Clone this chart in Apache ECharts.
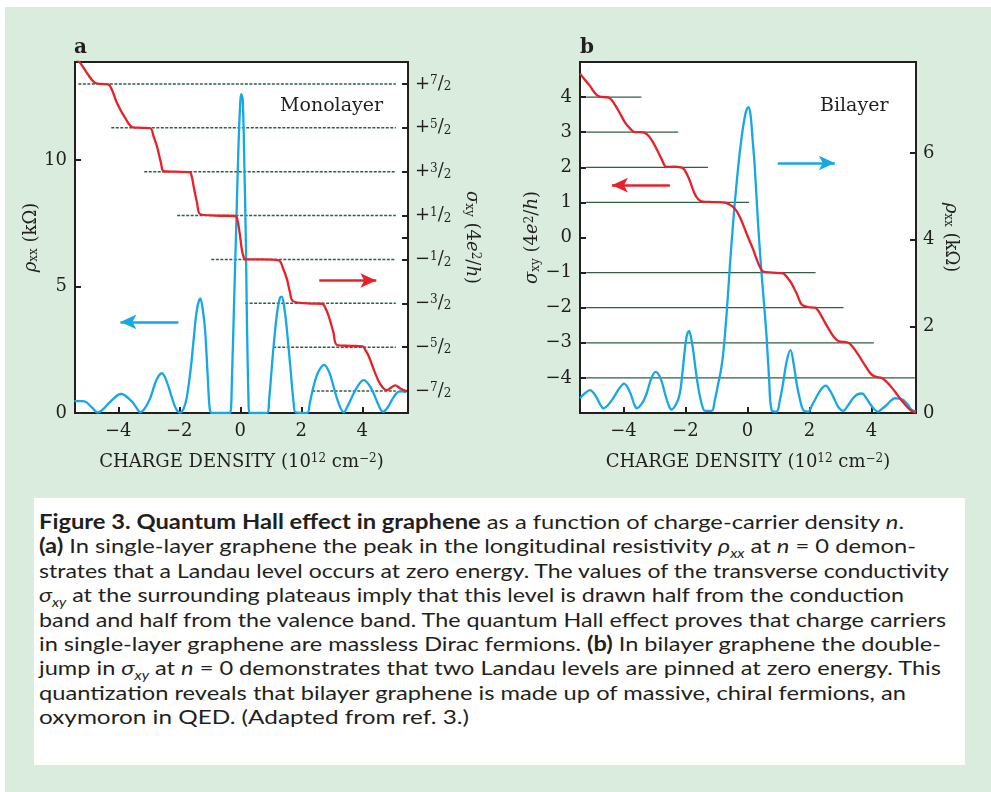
<!DOCTYPE html>
<html><head><meta charset="utf-8">
<script src="https://cdn.jsdelivr.net/npm/echarts@6/dist/echarts.min.js"></script>
<style>
html,body{margin:0;padding:0;background:#fff;}
#bg{position:absolute;left:5px;top:7px;width:986px;height:785px;background:#d9ecdd;}
#chart{position:absolute;left:0;top:0;width:991px;height:792px;}
#cap{position:absolute;left:34px;top:498px;width:931px;height:267px;background:#fff;font-family:Lato,'Noto Sans',sans-serif;font-size:20px;color:#231f20;}
#cap .ln{position:absolute;left:5px;white-space:nowrap;line-height:24px;transform-origin:0 50%;}
#cap b{font-weight:bold;}
#cap i{font-style:italic;}
#cap sub{font-size:13px;vertical-align:-5px;line-height:0;}
</style></head>
<body>
<div id="bg"></div>
<div id="chart"></div>
<div id="cap">
<div class="ln" data-w="865"><b>Figure 3. Quantum Hall effect in graphene</b> as a function of charge-carrier density <i>n</i>.</div>
<div class="ln" data-w="877"><b>(a)</b> In single-layer graphene the peak in the longitudinal resistivity <i>ρ</i><sub><i>xx</i></sub> at <i>n</i> = 0 demon-</div>
<div class="ln" data-w="910">strates that a Landau level occurs at zero energy. The values of the transverse conductivity</div>
<div class="ln" data-w="865"><i>σ</i><sub><i>xy</i></sub> at the surrounding plateaus imply that this level is drawn half from the conduction</div>
<div class="ln" data-w="907">band and half from the valence band. The quantum Hall effect proves that charge carriers</div>
<div class="ln" data-w="902">in single-layer graphene are massless Dirac fermions. <b>(b)</b> In bilayer graphene the double-</div>
<div class="ln" data-w="902">jump in <i>σ</i><sub><i>xy</i></sub> at <i>n</i> = 0 demonstrates that two Landau levels are pinned at zero energy. This</div>
<div class="ln" data-w="867">quantization reveals that bilayer graphene is made up of massive, chiral fermions, an</div>
<div class="ln" data-w="430">oxymoron in QED. (Adapted from ref. 3.)</div>
</div>
<script>
// ---------- data ----------
// Panel a (monolayer): x = charge density (1e12 cm^-2)
var redA = [[-5.4,4.08],[-5.25,3.98],[-5.0,3.72],[-4.75,3.52],[-4.55,3.5],[-4.33,3.49],[-4.2,3.35],[-4.04,3.06],[-3.77,2.72],[-3.52,2.51],[-3.2,2.5],[-2.95,2.49],[-2.84,2.3],[-2.73,2.07],[-2.6,1.7],[-2.51,1.51],[-2.1,1.5],[-1.66,1.49],[-1.58,1.35],[-1.53,1.17],[-1.42,0.8],[-1.31,0.53],[-0.8,0.5],[-0.16,0.49],[-0.08,0.35],[-0.02,0.1],[0.05,-0.27],[0.1,-0.42],[0.16,-0.5],[0.7,-0.5],[1.26,-0.52],[1.4,-0.7],[1.53,-0.95],[1.63,-1.25],[1.73,-1.45],[2.2,-1.5],[2.68,-1.51],[2.8,-1.62],[2.9,-1.79],[3.05,-2.15],[3.17,-2.45],[3.6,-2.47],[4.01,-2.48],[4.1,-2.56],[4.21,-2.7],[4.4,-3.05],[4.59,-3.34],[4.81,-3.48],[4.95,-3.42],[5.08,-3.37],[5.25,-3.44],[5.45,-3.5]];
var blueA = [[-5.44,0.47],[-5.2,0.47],[-5.05,0.43],[-4.85,0.2],[-4.68,0.02],[-4.5,0.15],[-4.26,0.45],[-3.91,0.75],[-3.55,0.45],[-3.4,0.2],[-3.28,0.03],[-3.12,0.2],[-2.95,0.6],[-2.75,1.3],[-2.57,1.57],[-2.4,1.2],[-2.24,0.6],[-2.1,0.15],[-1.97,0.02],[-1.85,0.2],[-1.75,0.64],[-1.62,1.8],[-1.53,2.9],[-1.42,4.1],[-1.31,4.53],[-1.22,4.0],[-1.15,3.2],[-1.07,1.5],[-1.0,0.15],[-0.93,0],[-0.4,0],[-0.33,0],[-0.27,1.5],[-0.2,4.5],[-0.13,7.5],[-0.06,10.5],[0.0,12.3],[0.03,12.6],[0.08,12.4],[0.13,10],[0.18,7],[0.22,3.5],[0.27,0.5],[0.3,0],[0.87,0],[0.95,0.6],[1.02,1.6],[1.09,2.6],[1.2,3.9],[1.3,4.55],[1.36,4.6],[1.45,4.1],[1.53,3.28],[1.65,1.7],[1.75,0.4],[1.82,0.02],[2.19,0],[2.28,0.4],[2.4,1.04],[2.55,1.6],[2.75,1.9],[2.92,1.6],[3.06,1.04],[3.22,0.4],[3.39,0.03],[3.55,0.35],[3.72,0.78],[3.9,1.15],[4.04,1.3],[4.2,1.15],[4.37,0.78],[4.52,0.35],[4.68,0.05],[4.82,0.2],[4.97,0.51],[5.1,0.75],[5.19,0.84],[5.3,0.86],[5.45,0.82]];
var levelsA = [3.5,2.5,1.5,0.5,-0.5,-1.5,-2.5,-3.5];
var startsA = [-5.31,-4.23,-3.15,-2.07,-0.95,0.16,1.08,2.36];
var endA = 5.1;
var xTicks = [-4,-2,0,2,4];
var rhoTicksA = [0,5,10];
var sigmaLabelsA = [-3.5,-2.5,-1.5,-0.5,0.5,1.5,2.5,3.5];
var sigmaTicksA = [-3.5,-2.5,-1.5,-0.5,0,0.5,1.5,2.5,3.5];
var arrowBlueA = [[-2.03,3.6],[-3.93,3.6]];
var arrowRedA = [[2.59,-0.98],[4.46,-0.98]];

// Panel b (bilayer)
var redB = [[-5.4,4.67],[-5.25,4.5],[-5.08,4.32],[-4.95,4.15],[-4.81,4.03],[-4.65,4.0],[-4.49,3.99],[-4.38,3.92],[-4.27,3.78],[-4.1,3.52],[-3.95,3.28],[-3.78,3.1],[-3.63,3.0],[-3.45,3.0],[-3.31,2.98],[-3.17,2.88],[-3.04,2.71],[-2.9,2.47],[-2.77,2.24],[-2.61,2.01],[-2.35,2.02],[-2.15,2.0],[-2.05,1.95],[-1.95,1.8],[-1.85,1.6],[-1.75,1.35],[-1.64,1.15],[-1.48,1.03],[-1.1,1.01],[-0.8,1.0],[-0.67,0.98],[-0.5,0.9],[-0.35,0.76],[-0.2,0.5],[-0.03,0.12],[0.19,-0.35],[0.35,-0.73],[0.51,-0.97],[0.8,-1.0],[1.15,-1.02],[1.28,-1.13],[1.42,-1.3],[1.6,-1.62],[1.75,-1.91],[1.95,-1.98],[2.18,-2.0],[2.3,-2.1],[2.39,-2.24],[2.6,-2.57],[2.77,-2.81],[2.93,-2.95],[3.25,-3.0],[3.4,-3.12],[3.57,-3.33],[3.8,-3.65],[4.0,-3.9],[4.15,-3.97],[4.33,-4.0],[4.5,-4.12],[4.7,-4.32],[4.87,-4.52],[5.03,-4.7],[5.18,-4.85],[5.3,-4.94],[5.44,-4.98]];
var blueB = [[-5.4,0.34],[-5.25,0.45],[-5.08,0.53],[-4.9,0.4],[-4.75,0.2],[-4.65,0.11],[-4.5,0.18],[-4.33,0.34],[-4.15,0.55],[-3.98,0.68],[-3.8,0.5],[-3.65,0.2],[-3.57,0.11],[-3.4,0.22],[-3.25,0.45],[-3.1,0.8],[-2.96,0.95],[-2.8,0.8],[-2.66,0.45],[-2.55,0.2],[-2.45,0.08],[-2.3,0.2],[-2.18,0.45],[-2.1,0.9],[-2.02,1.45],[-1.95,1.8],[-1.88,1.89],[-1.82,1.75],[-1.75,1.45],[-1.65,0.9],[-1.55,0.45],[-1.45,0.15],[-1.37,0.05],[-1.15,0.05],[-1.05,0.3],[-0.94,0.68],[-0.85,1.0],[-0.78,1.37],[-0.67,2.29],[-0.56,3.44],[-0.48,4.2],[-0.4,4.9],[-0.24,6.05],[-0.08,6.85],[0.03,7.06],[0.1,6.89],[0.17,6.3],[0.24,5.66],[0.35,4.3],[0.46,3.2],[0.54,2.5],[0.62,1.75],[0.7,0.8],[0.78,0.07],[0.94,0.03],[1.05,0.3],[1.15,0.68],[1.27,1.2],[1.39,1.45],[1.5,1.1],[1.59,0.68],[1.7,0.3],[1.8,0.07],[1.96,0.03],[2.1,0.2],[2.23,0.37],[2.38,0.55],[2.53,0.63],[2.68,0.5],[2.82,0.3],[2.95,0.12],[3.09,0.05],[3.25,0.18],[3.41,0.34],[3.55,0.43],[3.7,0.45],[3.83,0.35],[3.95,0.22],[4.1,0.08],[4.22,0.03],[4.35,0.1],[4.49,0.18],[4.62,0.28],[4.76,0.34],[4.9,0.33],[5.03,0.3],[5.17,0.2],[5.3,0.07],[5.44,0.03]];
var levelsB = [4,3,2,1,-1,-2,-3,-4];
var startB = -5.2;
var endsB = [-3.42,-2.23,-1.27,0.05,2.2,3.1,4.08,5.4];
var sigmaTicksB = [-4,-3,-2,-1,0,1,2,3,4];
var rhoTicksB = [0,2,4,6];
var arrowRedB = [[-2.5,1.49],[-4.37,1.49]];
var arrowBlueB = [[0.98,5.77],[2.82,5.77]];

// ---------- styling ----------
var SERIF = "'DejaVu Serif','Liberation Serif',serif";
var INK = '#231f20';
var RED = '#e8202a';
var BLUE = '#16a7e6';
var GREEN = '#2f5f43';
var FS = 18;
var rich = {
  i:{fontStyle:'italic',fontFamily:SERIF,fontSize:FS,color:INK},
  sub:{fontSize:12,fontFamily:SERIF,color:INK,verticalAlign:'bottom',lineHeight:12},
  sup:{fontSize:12,fontFamily:SERIF,color:INK,verticalAlign:'top',lineHeight:12},
  n:{fontSize:FS,fontFamily:SERIF,color:INK}
};
function minus(v){ return String(v).replace('-','\u2212'); }
function halfLabel(v){
  var n = Math.round(v*2);
  var s = n>0 ? '+' : '\u2212';
  return '{n|'+s+'}{sup|'+Math.abs(n)+'}{n|/}{sub|2}';
}
function valAxis(o){
  var base = {
    type:'value', axisLine:{show:false,onZero:false}, splitLine:{show:false},
    axisTick:{show:true,inside:true,length:6,lineStyle:{color:INK,width:2}},
    axisLabel:{color:INK,fontFamily:SERIF,fontSize:FS,formatter:minus},
    nameTextStyle:{color:INK,fontFamily:SERIF,fontSize:FS,rich:rich}
  };
  for (var k in o){
    if (typeof o[k]==='object' && !Array.isArray(o[k]) && base[k]) {
      for (var j in o[k]) base[k][j]=o[k][j];
    } else base[k]=o[k];
  }
  return base;
}
function levelSeries(levels, starts, ends, xi, yi, dash){
  return levels.map(function(l,i){
    var s = Array.isArray(starts)?starts[i]:starts;
    var e = Array.isArray(ends)?ends[i]:ends;
    return {type:'line',xAxisIndex:xi,yAxisIndex:yi,data:[[s,l],[e,l]],symbol:'none',silent:true,z:1,
      lineStyle:{color:GREEN,width:dash?1.5:1.2,type:dash?[3,1.5]:'solid'}};
  });
}
function arrow(pts,color){
  return {silent:true,symbol:['none','arrow'],symbolSize:[11,16],label:{show:false},
    lineStyle:{color:color,width:2.5,type:'solid'},
    data:[[{coord:pts[0]},{coord:pts[1]}]]};
}
function curve(data,xi,yi,color,mark){
  var s = {type:'line',xAxisIndex:xi,yAxisIndex:yi,data:data,symbol:'none',smooth:0.35,z:3,
    lineStyle:{color:color,width:2.3}};
  if (mark) s.markLine = mark;
  return s;
}
var xName = '{n|CHARGE DENSITY (10}{sup|12}{n| cm}{sup|\u22122}{n|)}';

var option = {
  animation:false,
  backgroundColor:'transparent',
  grid:[
    {left:75,top:62,width:333,height:351,show:true,backgroundColor:'#fff',borderColor:INK,borderWidth:2},
    {left:580,top:62,width:336,height:351,show:true,backgroundColor:'#fff',borderColor:INK,borderWidth:2}
  ],
  xAxis:[
    valAxis({gridIndex:0,min:-5.42,max:5.5,axisLabel:{customValues:xTicks,margin:9},axisTick:{customValues:xTicks},
      name:xName,nameLocation:'middle',nameGap:40}),
    valAxis({gridIndex:1,min:-5.4,max:5.44,axisLabel:{customValues:xTicks,margin:9},axisTick:{customValues:xTicks},
      name:xName,nameLocation:'middle',nameGap:40})
  ],
  yAxis:[
    valAxis({gridIndex:0,position:'left',min:0,max:13.87,axisLabel:{customValues:rhoTicksA,margin:8},axisTick:{customValues:rhoTicksA},
      name:'{i|ρ}{sub|xx}{n| (kΩ)}',nameLocation:'middle',nameGap:31,nameRotate:90}),
    valAxis({gridIndex:0,position:'right',min:-4,max:4,axisLabel:{customValues:sigmaLabelsA,margin:7,formatter:halfLabel,rich:rich},axisTick:{customValues:sigmaTicksA},
      name:'{i|σ}{sub|xy}{n| (4}{i|e}{sup|2}{n|/}{i|h}{n|)}',nameLocation:'middle',nameGap:55,nameRotate:-90}),
    valAxis({gridIndex:1,position:'left',min:-5,max:5,axisLabel:{customValues:sigmaTicksB,margin:8},axisTick:{customValues:sigmaTicksB},
      name:'{i|σ}{sub|xy}{n| (4}{i|e}{sup|2}{n|/}{i|h}{n|)}',nameLocation:'middle',nameGap:34,nameRotate:90}),
    valAxis({gridIndex:1,position:'right',min:0,max:8.1,axisLabel:{customValues:rhoTicksB,margin:7},axisTick:{customValues:rhoTicksB},
      name:'{i|ρ}{sub|xx}{n| (kΩ)}',nameLocation:'middle',nameGap:26,nameRotate:-90})
  ],
  graphic:[
    {type:'text',left:74,top:38,style:{text:'a',font:"bold 20px "+SERIF,fill:INK}},
    {type:'text',left:580,top:38,style:{text:'b',font:"bold 20px "+SERIF,fill:INK}},
    {type:'text',left:280,top:97,style:{text:'Monolayer',font:"19px "+SERIF,fill:INK}},
    {type:'text',left:820,top:97,style:{text:'Bilayer',font:"19px "+SERIF,fill:INK}}
  ],
  series:[].concat(
    levelSeries(levelsA,startsA,endA,0,1,true),
    levelSeries(levelsB,startB,endsB,1,2,false),
    [curve(blueA,0,0,BLUE,arrow(arrowBlueA,BLUE)),
     curve(redA,0,1,RED,arrow(arrowRedA,RED)),
     curve(blueB,1,3,BLUE,arrow(arrowBlueB,BLUE)),
     curve(redB,1,2,RED,arrow(arrowRedB,RED))]
  )
};
var chart = echarts.init(document.getElementById('chart'),null,{renderer:'canvas'});
chart.setOption(option);

// caption line layout
var lines = document.querySelectorAll('#cap .ln');
for (var i=0;i<lines.length;i++){
  var el = lines[i];
  el.style.top = (11 + i*24.4) + 'px';
  var w = el.getBoundingClientRect().width;
  var tw = parseFloat(el.getAttribute('data-w'));
  el.style.transform = 'scaleX(' + (tw/w).toFixed(4) + ')';
}
</script>
</body></html>
